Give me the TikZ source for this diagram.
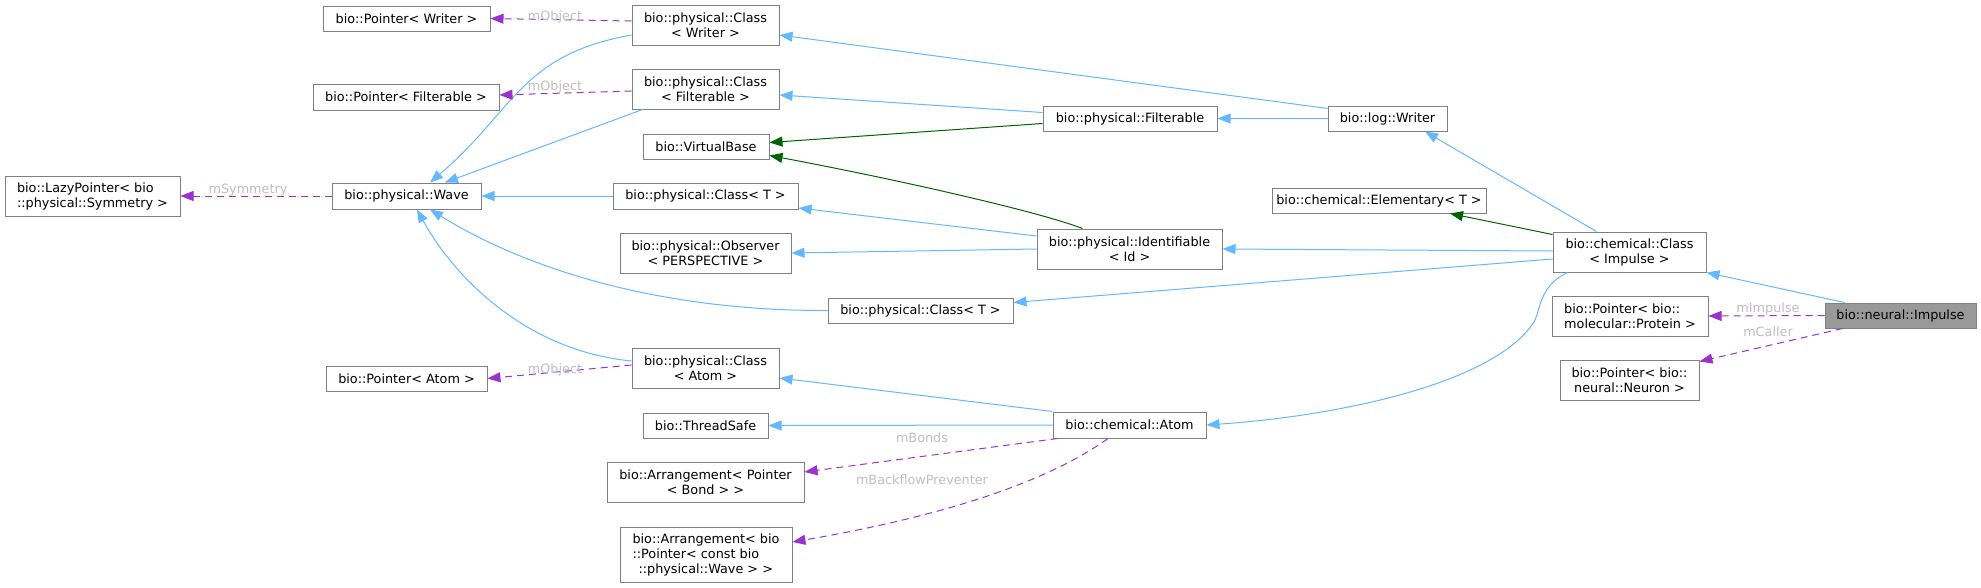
\documentclass[tikz,border=0pt]{standalone}
\usepackage{fontspec}
\setmainfont{DejaVu Sans}
\usepackage{tikz}
\usetikzlibrary{positioning,arrows.meta,calc}
\definecolor{inheritblue}{HTML}{63B8FF}
\definecolor{virtualgreen}{HTML}{006400}
\definecolor{usepurple}{HTML}{9A32CD}
\definecolor{labelgrey}{HTML}{BEBEBE}
\definecolor{boxgrey}{HTML}{808080}
\definecolor{focusgrey}{HTML}{999999}

\begin{document}
\begin{tikzpicture}[
        x=1pt, y=-1pt,
        classbox/.style={rectangle, draw=boxgrey, fill=white, line
        width=1pt, inner sep=1pt, align=center,
        font=\fontsize{12.8}{15}\selectfont},
        basearrow/.style={-{Triangle[length=13pt,width=10pt]}, line
        width=1pt, inheritblue},
        virtualarrow/.style={-{Triangle[length=13pt,width=10pt]}, line
        width=1pt, virtualgreen},
        usearrow/.style={-{Triangle[length=13pt,width=10pt]}, line
        width=1pt, usepurple, dash pattern=on 7pt off 5pt},
        rolelabel/.style={font=\fontsize{12.8}{15}\selectfont,
        text=labelgrey, inner sep=0pt, anchor=base},
      ]
      \useasboundingbox (0,0) rectangle (1981,587);

      % Left column: pointers held by the physical classes
      \node[classbox, minimum width=167, minimum height=25] (ptrwriter) at (406.5,18.5) {bio::Pointer< Writer >};
      \node[classbox, minimum width=186, minimum height=26] (ptrfilt) at (406,97) {bio::Pointer< Filterable >};
      \node[classbox, align=left, minimum width=175, minimum height=40] (lazy) at (92.5,196)
      {bio::LazyPointer< bio\\::physical::Symmetry >};
      \node[classbox, minimum width=149, minimum height=26] (wave) at (406.5,196) {bio::physical::Wave};
      \node[classbox, minimum width=161, minimum height=25] (ptratom) at (406.5,378.5) {bio::Pointer< Atom >};

      % Middle column
      \node[classbox, minimum width=147, minimum height=40] (clswriter) at (705.5,25) {bio::physical::Class\\< Writer >};
      \node[classbox, minimum width=147, minimum height=40] (clsfilt) at (705.5,89) {bio::physical::Class\\< Filterable >};
      \node[classbox, minimum width=126, minimum height=25] (vbase) at (706,146.5) {bio::VirtualBase};
      \node[classbox, minimum width=185, minimum height=26] (clsTa) at (705.5,196) {bio::physical::Class< T >};
      \node[classbox, minimum width=171, minimum height=40] (observer) at (705.5,253)
      {bio::physical::Observer\\< PERSPECTIVE >};
      \node[classbox, minimum width=147, minimum height=40] (clsatom) at (705.5,368) {bio::physical::Class\\< Atom >};
      \node[classbox, minimum width=125, minimum height=25] (threadsafe) at (705.5,425.5) {bio::ThreadSafe};
      \node[classbox, minimum width=197, minimum height=40] (arrbond) at (705.5,482)
      {bio::Arrangement< Pointer\\< Bond > >};
      \node[classbox, align=left, minimum width=172, minimum height=55] (arrwave) at (706,554.5)
      {bio::Arrangement< bio\\::Pointer< const bio\\\hspace*{6pt}::physical::Wave > >};
      \node[classbox, minimum width=185, minimum height=25] (clsTb) at (920.5,310.5) {bio::physical::Class< T >};

      % Right part
      \node[classbox, minimum width=174, minimum height=25] (filterable) at (1130,118.5) {bio::physical::Filterable};
      \node[classbox, minimum width=185, minimum height=40] (identifiable) at (1129.5,249)
      {bio::physical::Identifiable\\< Id >};
      \node[classbox, minimum width=153, minimum height=26] (atom) at (1129.5,425) {bio::chemical::Atom};
      \node[classbox, minimum width=119, minimum height=25] (logwriter) at (1387.5,118.5) {bio::log::Writer};
      \node[classbox, minimum width=214, minimum height=25] (elementary) at (1379,200.5)
      {bio::chemical::Elementary< T >};
      \node[classbox, minimum width=153, minimum height=40] (chemcls) at (1629.5,252) {bio::chemical::Class\\< Impulse >};
      \node[classbox, align=left, minimum width=156, minimum height=40] (ptrprot) at (1630,316)
      {bio::Pointer< bio::\\molecular::Protein >};
      \node[classbox, minimum width=139, minimum height=40] (ptrneuron) at (1629.5,380)
      {bio::Pointer< bio::\\neural::Neuron >};
      \node[classbox, fill=focusgrey, minimum width=151, minimum height=25] (impulse) at (1900.5,315.5)
      {bio::neural::Impulse};

      % Bases of Wave
      \draw[basearrow] ($(clswriter.west)+(0,10)$) .. controls (520,55) and (515,110) .. ($(wave.north)+(23.5,0)$);
      \draw[basearrow] ($(clsfilt.south west)+(11,0)$) -- ($(wave.north)+(38.5,0)$);
      \draw[basearrow] (clsTa.west) -- (wave.east);
      \draw[basearrow] (clsTb.west) .. controls (650,311) and (520,265) .. ($(wave.south)+(23.5,0)$);
      \draw[basearrow] ($(clsatom.west)+(0,-7)$) .. controls (520,350) and (450,270) .. ($(wave.south)+(10.5,0)$);

      % Members of the physical classes
      \draw[usearrow] ($(clswriter.west)+(0,-4)$) -- (ptrwriter.east);
      \node[rolelabel] (lblwriter) at (555,20) {mObject};
      \draw[usearrow] ($(clsfilt.west)+(0,2)$) -- ($(ptrfilt.east)+(0,-2)$);
      \node[rolelabel] (lblfilt) at (555,90) {mObject};
      \draw[usearrow] (wave.west) -- (lazy.east);
      \node[rolelabel] (lblsym) at (248,193) {mSymmetry};
      \draw[usearrow] ($(clsatom.west)+(0,-3)$) -- (ptratom.east);
      \node[rolelabel] (lblatom) at (555,373) {mObject};

      % Writer, Filterable and Identifiable
      \draw[basearrow] ($(logwriter.north west)+(0,3)$) -- ($(clswriter.east)+(0,10)$);
      \draw[basearrow] ($(filterable.west)+(0,-6)$) -- ($(clsfilt.east)+(0,6)$);
      \draw[virtualarrow] ($(filterable.west)+(0,5)$) -- ($(vbase.east)+(0,-4)$);
      \draw[basearrow] (logwriter.west) -- (filterable.east);
      \draw[virtualarrow] ($(identifiable.north west)+(46,0)$) .. controls (1040,212) and (900,180) .. ($(vbase.east)+(0,9)$);
      \draw[basearrow] ($(identifiable.west)+(0,-13)$) -- ($(clsTa.east)+(0,12)$);
      \draw[basearrow] (identifiable.west) -- (observer.east);

      % Bases of chemical::Class
      \draw[basearrow] ($(chemcls.north west)+(44,0)$) -- ($(logwriter.south)+(37.5,0)$);
      \draw[virtualarrow] ($(chemcls.north west)+(0,3)$) -- ($(elementary.south)+(71,0)$);
      \draw[basearrow] ($(chemcls.west)+(0,-1)$) -- (identifiable.east);
      \draw[basearrow] ($(chemcls.west)+(0,7)$) -- ($(clsTb.east)+(0,-8)$);
      \draw[basearrow] ($(chemcls.south west)+(15,0)$) .. controls (1540,285) and (1540,310) .. (1535,320)
      .. controls (1500,380) and (1350,415) .. (atom.east);

      % Atom
      \draw[basearrow] (atom.north west) -- ($(clsatom.east)+(0,10)$);
      \draw[basearrow] (atom.west) -- (threadsafe.east);
      \draw[usearrow] ($(atom.south west)+(5,0)$) -- ($(arrbond.east)+(0,-10)$);
      \node[rolelabel] (lblbonds) at (922,442) {mBonds};
      \draw[usearrow] ($(atom.south)+(-21.5,0)$) .. controls (1050,480) and (950,515) .. ($(arrwave.east)+(0,-12.5)$);
      \node[rolelabel] (lblback) at (922,484) {mBackflowPreventer};

      % The impulse itself
      \draw[basearrow] ($(impulse.north west)+(20,0)$) -- (chemcls.south east);
      \draw[usearrow] (impulse.west) -- (ptrprot.east);
      \node[rolelabel] (lblimp) at (1768,312) {mImpulse};
      \draw[usearrow] ($(impulse.south west)+(18,0)$) -- ($(ptrneuron.north east)+(0,2)$);
      \node[rolelabel] (lblcaller) at (1768,336) {mCaller};
    \end{tikzpicture}
\end{document}
